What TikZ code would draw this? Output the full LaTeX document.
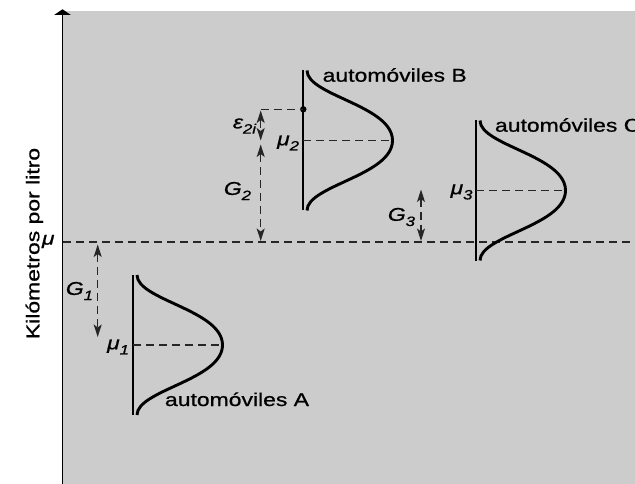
\documentclass[tikz,border=0pt]{standalone}
\usepackage{fontspec}
\setmainfont[FakeStretch=1.24,FakeBold=0.8]{Liberation Sans}
\usetikzlibrary{arrows.meta}
\definecolor{bggray}{RGB}{204,204,204}
\newcommand\lsub[1]{\raisebox{-0.28em}{\fontsize{13.5}{14}\selectfont #1}}
\newcommand\lsubi[1]{\raisebox{-0.28em}{\fontsize{13.5}{14}\selectfont\itshape #1}}
\newcommand\drawbell[3]{%
  \coordinate (#1top) at (#2,#3-70);
  \coordinate (#1bot) at (#2,#3+70);
  \coordinate (#1mid) at (#2,#3);
  \coordinate (#1peak) at (#2+89.5,#3);
  \draw[vline] (#1top) -- (#1bot);
  \draw[bellcurve] (#2+4,#3-70) .. controls (#2+4,#3-45) and (#2+89.5,#3-35) .. (#1peak)
        .. controls (#2+89.5,#3+35) and (#2+4,#3+45) .. (#2+4,#3+70);
  \draw[dashline] (#1mid) -- (#1peak);
}
\begin{document}
\begin{tikzpicture}[x=1pt,y=-1pt,
  every node/.style={inner sep=0pt, outer sep=0pt, font=\fontsize{18.5}{20}\selectfont},
  axisline/.style={line width=1.8pt},
  vline/.style={line width=1.4pt},
  bellcurve/.style={line width=2.9pt},
  dashline/.style={line width=1.3pt, black!85, dash pattern=on 8pt off 5pt},
  gaparrow/.style={dashline, {Stealth[length=12.5pt,width=8pt,inset=3pt]}-{Stealth[length=12.5pt,width=8pt,inset=3pt]}},
  lbl/.style={anchor=east}]
\useasboundingbox (0,0) rectangle (635,484);
\fill[bggray] (63,11) rectangle (635,484);

% axis
\coordinate (axbot) at (62.5,484);
\coordinate (axtop) at (62.5,9.3);
\draw[axisline, -{Triangle[width=16pt,length=5.5pt]}] (axbot) -- (axtop);
\node[rotate=90, anchor=base] (ylab) at (39.3,243.5) {Kilómetros por litro};

% overall mean line
\coordinate (mu) at (63,242);
\coordinate (muend) at (635,242);
\draw[dashline] (mu) -- (muend);
\node[lbl] (mulab) at (54.5,241.5) {\itshape μ};

% distributions
\drawbell{A}{133}{345}
\drawbell{B}{303}{140.5}
\drawbell{C}{476}{190.5}

\node[anchor=base west] (labA) at (165,406) {automóviles A};
\node[anchor=base west] (labB) at (322.7,81.7) {automóviles B};
\node[anchor=base west] (labC) at (495,131.7) {automóviles C};

\node[lbl] (mu1) at (129,347) {\itshape μ\lsub{1}};
\node[lbl] (mu2) at (299,143) {\itshape μ\lsub{2}};
\node[lbl] (mu3) at (472.5,192) {\itshape μ\lsub{3}};

% observation point
\coordinate (obs) at (303.3,109.3);
\coordinate (obsl) at (260.7,109.3);
\fill (obs) circle (3.2pt);
\draw[dashline] (obsl) -- (obs);

% gap arrows
\coordinate (e2top) at (260.7,110.5);
\coordinate (e2bot) at (260.7,140.5);
\coordinate (g2top) at (260.7,144.5);
\coordinate (g2bot) at (260.7,241);
\draw[gaparrow] (e2top) -- (e2bot);
\draw[gaparrow] (g2top) -- (g2bot);

\coordinate (g1top) at (97.7,244.5);
\coordinate (g1bot) at (97.7,337);
\draw[gaparrow] (g1top) -- (g1bot);

\coordinate (g3top) at (421,189.5);
\coordinate (g3bot) at (421,241);
\draw[gaparrow] (g3top) -- (g3bot);

\node[lbl] (e2lab) at (256,126) {\itshape ε\lsub{2}\lsubi{i}};
\node[lbl] (g1lab) at (93,291) {\itshape G\lsub{1}};
\node[lbl] (g2lab) at (251,191) {\itshape G\lsub{2}};
\node[lbl] (g3lab) at (415,217) {\itshape G\lsub{3}};
\end{tikzpicture}
\end{document}
